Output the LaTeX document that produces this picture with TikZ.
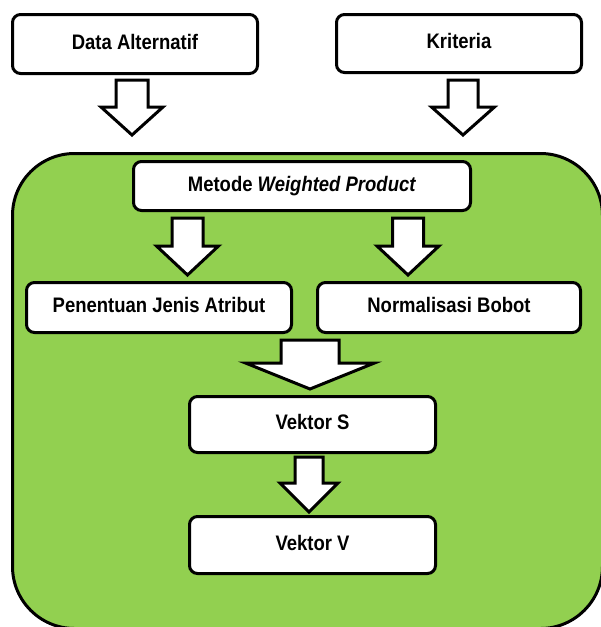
\documentclass[tikz,border=0pt]{standalone}
\usepackage{fontspec}
\usetikzlibrary{calc}
\newfontfamily\labfont{Liberation Sans}[FakeStretch=0.88]
\definecolor{wpgreen}{HTML}{92D050}
\tikzset{
  box/.style={draw=black, line width=3pt, fill=white, rounded corners=8pt,
    inner sep=0pt, text height=15pt, text depth=5pt,
    font=\labfont\fontsize{21}{24}\selectfont\bfseries},
  container/.style={draw=black, line width=3pt, fill=wpgreen, rounded corners=62pt, inner sep=0pt},
  barrow/.style={draw=black, line width=3pt, fill=white, line join=miter}
}
% #1 x, #2 from node, #3 to node, #4 top gap, #5 tip gap, #6 shaft half width, #7 head half width, #8 head length
\newcommand\blockarrow[8]{%
  \draw[barrow] let \p1=(#2.south), \p2=(#3.north), \p3=(#1,0) in
    (\x3-#6,\y1-#4) -- (\x3+#6,\y1-#4) -- (\x3+#6,\y2+#5+#8) -- (\x3+#7,\y2+#5+#8)
    -- (\x3,\y2+#5) -- (\x3-#7,\y2+#5+#8) -- (\x3-#6,\y2+#5+#8) -- cycle;}
\begin{document}
\begin{tikzpicture}[x=1pt,y=-1pt]
\useasboundingbox (0,0) rectangle (601,627);
\clip (0,0) rectangle (601,627);
\node[container, minimum width=590pt, minimum height=475pt] (cont) at (307.5,391) {};
\node[box, minimum width=245pt, minimum height=59pt] (da) at (135,44) {Data Alternatif};
\node[box, minimum width=245pt, minimum height=58pt] (kr) at (459,43.5) {Kriteria};
\node[box, minimum width=337pt, minimum height=49pt] (wp) at (302,186) {Metode \textit{Weighted Product}};
\node[box, minimum width=265pt, minimum height=50pt] (pj) at (159,307.5) {Penentuan Jenis Atribut};
\node[box, minimum width=263pt, minimum height=50pt] (nb) at (449,307.5) {Normalisasi Bobot};
\node[box, minimum width=246pt, minimum height=56pt] (vs) at (312.5,424.5) {Vektor S};
\node[box, minimum width=246pt, minimum height=57pt] (vv) at (312.5,545) {Vektor V};
\blockarrow{132}{da}{cont}{5pt}{17pt}{16pt}{31pt}{28pt}
\blockarrow{463}{kr}{cont}{6pt}{17pt}{15pt}{31.5pt}{28pt}
\blockarrow{187.5}{wp}{pj}{6pt}{6pt}{15.5pt}{31pt}{29pt}
\blockarrow{408}{wp}{nb}{6pt}{6pt}{15.5pt}{31pt}{29pt}
\blockarrow{310}{pj}{vs}{6pt}{6pt}{29pt}{64.5pt}{26pt}
\blockarrow{309}{vs}{vv}{3pt}{3pt}{14pt}{29pt}{29pt}
\end{tikzpicture}
\end{document}
